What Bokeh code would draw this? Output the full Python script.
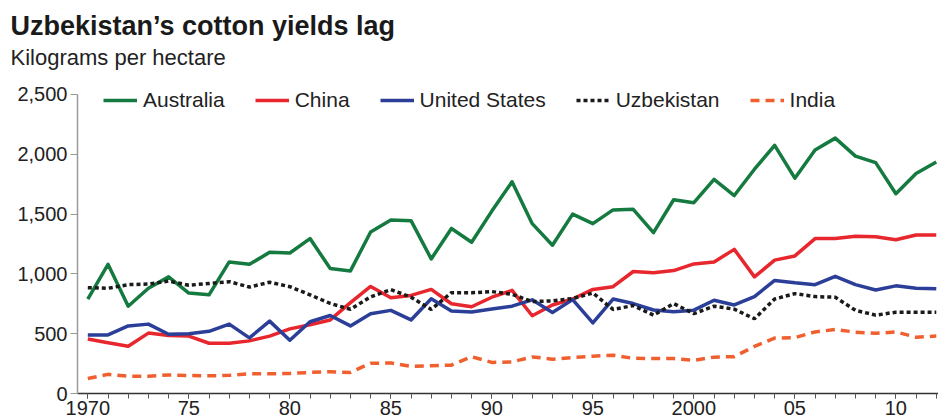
from bokeh.plotting import figure
from bokeh.models import (Range1d, FixedTicker, NumeralTickFormatter, Legend,
                          LegendItem, Title)
from bokeh.embed import file_html
from bokeh.resources import INLINE

years = list(range(1970, 2013))

australia = [790, 1080, 730, 880, 975, 840, 825, 1100, 1080, 1180,
             1175, 1295, 1045, 1025, 1350, 1450, 1445, 1125, 1380, 1265,
             1525, 1770, 1420, 1240, 1500, 1420, 1535, 1540, 1345, 1620,
             1595, 1790, 1655, 1875, 2075, 1800, 2035, 2135, 1985, 1930,
             1670, 1840, 1935]
china = [455, 425, 395, 505, 485, 480, 420, 420, 440, 480,
         540, 575, 615, 760, 895, 800, 820, 870, 750, 725,
         805, 862, 650, 740, 790, 870, 893, 1020, 1010, 1028,
         1083, 1100, 1205, 975, 1115, 1150, 1295, 1295, 1315, 1310,
         1285, 1325, 1325]
united_states = [490, 490, 565, 580, 495, 500, 520, 580, 465, 605,
                 445, 600, 652, 565, 667, 695, 615, 792, 690, 682,
                 707, 730, 783, 677, 785, 590, 790, 752, 698, 684,
                 697, 780, 740, 810, 945, 925, 910, 980, 910, 865,
                 900, 880, 875]
uzbekistan = [885, 880, 910, 915, 940, 905, 920, 935, 890, 930,
              893, 825, 753, 704, 808, 869, 805, 703, 843, 842,
              852, 830, 768, 775, 794, 840, 703, 735, 655, 752,
              668, 730, 705, 625, 790, 835, 810, 805, 695, 655,
              680, 680, 680]
india = [125, 160, 145, 145, 155, 150, 148, 152, 165, 165,
         168, 176, 182, 176, 253, 255, 226, 233, 237, 308,
         260, 264, 306, 287, 301, 312, 320, 294, 292, 292,
         278, 304, 308, 394, 463, 467, 515, 535, 513, 503,
         515, 470, 481]

major_ticks = [1970, 1975, 1980, 1985, 1990, 1995, 2000, 2005, 2010]
major_labels = ["1970", "75", "80", "85", "90", "95", "2000", "05", "10"]
y_ticks = [0, 500, 1000, 1500, 2000, 2500]

FONT = "Liberation Sans"
TXT = "#222222"

# frame spans a little above 2,500 so the legend sits fully inside it;
# the y axis line itself stops at 2,500 (bounds)
p = figure(width=938, height=418, output_backend="svg", toolbar_location=None,
           title=None,
           x_range=Range1d(1969.49, 2012.11), y_range=Range1d(0, 2575),
           min_border_left=77, min_border_right=0, min_border_top=85,
           min_border_bottom=25)
p.outline_line_color = None
p.xgrid.grid_line_color = None
p.ygrid.grid_line_color = None
p.background_fill_color = "white"
p.border_fill_color = "white"

# x axis
xa = p.xaxis[0]
xa.ticker = FixedTicker(ticks=major_ticks, minor_ticks=years)
xa.major_label_overrides = {t: l for t, l in zip(major_ticks, major_labels)}
xa.major_tick_in = 0
xa.major_tick_out = 5
xa.minor_tick_in = 0
xa.minor_tick_out = 5
xa.axis_line_color = "#333333"
xa.major_tick_line_color = "#444444"
xa.minor_tick_line_color = "#555555"
xa.axis_line_width = 1.5
xa.major_label_standoff = 2
xa.major_label_text_font = FONT
xa.major_label_text_font_size = "20px"
xa.major_label_text_color = TXT

# y axis
ya = p.yaxis[0]
ya.ticker = FixedTicker(ticks=y_ticks, minor_ticks=[])
ya.formatter = NumeralTickFormatter(format="0,0")
ya.bounds = (0, 2500)
ya.major_tick_in = 0
ya.major_tick_out = 7
ya.axis_line_color = "#9a9a9a"
ya.major_tick_line_color = "#9a9a9a"
ya.axis_line_width = 1.5
ya.major_label_standoff = 3
ya.major_label_text_font = FONT
ya.major_label_text_font_size = "20px"
ya.major_label_text_color = TXT

LW = 3.5
r_aus = p.line(years, australia, line_color="#157a3f", line_width=LW, line_join="round")
r_chn = p.line(years, china, line_color="#e8262d", line_width=LW, line_join="round")
r_us = p.line(years, united_states, line_color="#2b3f99", line_width=LW, line_join="round")
r_uzb = p.line(years, uzbekistan, line_color="#1a1a1a", line_width=LW, line_dash="4 3")
r_ind = p.line(years, india, line_color="#f0602e", line_width=LW, line_dash="9 6")

legend = Legend(items=[
    LegendItem(label="Australia", renderers=[r_aus]),
    LegendItem(label="China", renderers=[r_chn]),
    LegendItem(label="United States", renderers=[r_us]),
    LegendItem(label="Uzbekistan", renderers=[r_uzb]),
    LegendItem(label="India", renderers=[r_ind]),
], orientation="horizontal", location=(26, 281), glyph_width=34, glyph_height=20,
    label_standoff=6, spacing=30, padding=0, margin=0, border_line_color=None,
    background_fill_alpha=0, label_text_font=FONT, label_text_font_size="21px",
    label_text_color=TXT)
p.add_layout(legend)

# subtitle first (closest to the frame), then the main title above it
p.add_layout(Title(text="Kilograms per hectare", align="left", offset=-67,
                   standoff=32, text_font=FONT, text_font_size="22px",
                   text_font_style="normal", text_color=TXT), "above")
p.add_layout(Title(text="Uzbekistan\u2019s cotton yields lag", align="left",
                   offset=-67, standoff=-28, text_font=FONT,
                   text_font_size="27px", text_font_style="bold",
                   text_color="#1a1a1a"), "above")

open("out.html", "w").write(file_html(p, INLINE))
